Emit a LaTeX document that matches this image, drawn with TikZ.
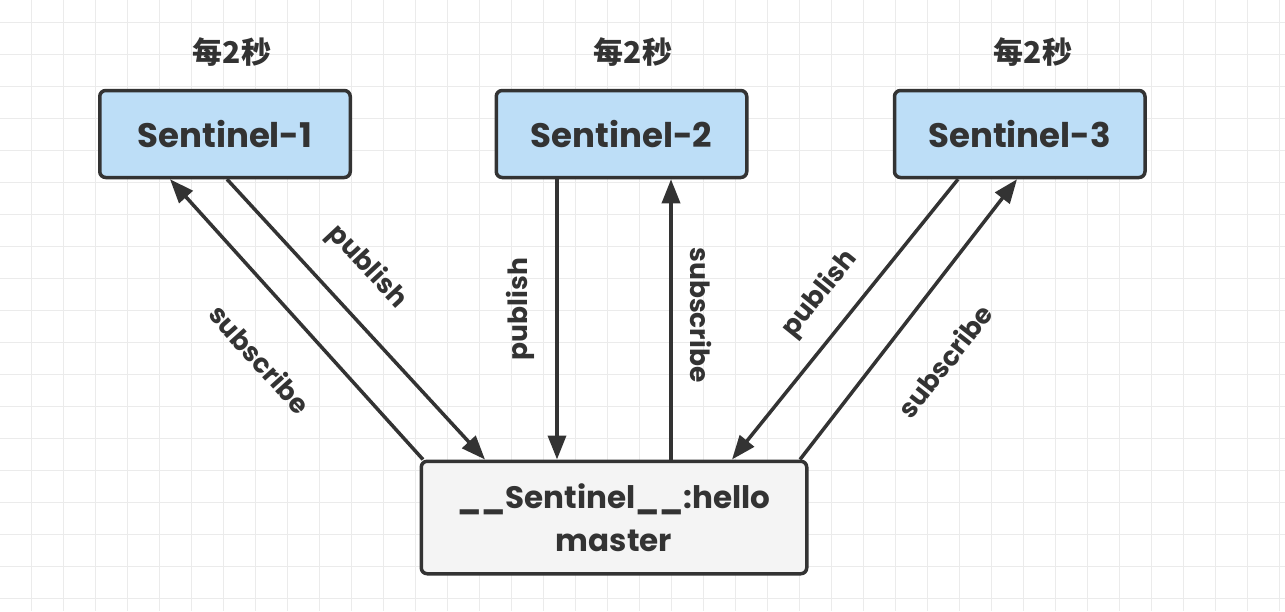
\documentclass[tikz,border=0pt]{standalone}
\usepackage{fontspec}
\setmainfont{Poppins}
\newfontfamily\cjkfont{Noto Sans CJK SC}
\usetikzlibrary{arrows.meta}
\definecolor{SenBlue}{HTML}{BDDEF7}
\definecolor{HubGray}{HTML}{F4F4F4}
\definecolor{InkDark}{HTML}{333333}
\definecolor{GridGray}{HTML}{EBEBEB}

\begin{document}
\begin{tikzpicture}[x=1pt,y=-1pt,
  sentinel/.style={draw=InkDark,line width=3.5pt,rounded corners=6pt,fill=SenBlue,minimum width=250.5pt,minimum height=87pt,text=InkDark,font=\fontsize{34}{40}\selectfont\bfseries},
  hub/.style={draw=InkDark,line width=3.5pt,rounded corners=6pt,fill=HubGray,minimum width=385.5pt,minimum height=112.5pt,align=center,text=InkDark,font=\fontsize{31}{43}\selectfont\bfseries},
  period/.style={text=InkDark,font=\fontsize{30}{34}\cjkfont\bfseries},
  msg/.style={text=InkDark,font=\fontsize{26.5}{30}\selectfont\bfseries},
  flow/.style={draw=InkDark,line width=3.5pt,-{Triangle[length=24pt,width=18pt]}}
]
\useasboundingbox (0,0) rectangle (1285,611);
\fill[white] (0,0) rectangle (1285,611);
% background grid
\foreach \gx in {0,...,39}
  \draw[GridGray,line width=1pt] (31.5+32*\gx,0) -- (31.5+32*\gx,611);
\foreach \gy in {0,...,18}
  \draw[GridGray,line width=1pt] (0,22+32*\gy) -- (1285,22+32*\gy);

\node[sentinel] (s1) at (225,134) {Sentinel-1};
\node[sentinel] (s2) at (621.5,134) {Sentinel-2};
\node[sentinel] (s3) at (1019.75,134) {Sentinel-3};
\node[hub] (hub) at (614,517.5) {\_\_Sentinel\_\_:hello\\master};

\node[period] (t1) at (232,52) {每2秒};
\node[period] (t2) at (633,52) {每2秒};
\node[period] (t3) at (1033,52) {每2秒};

% left pair
\draw[flow] ([xshift=2pt]s1.south) -- ([xshift=-129pt]hub.north);
\draw[flow] ([xshift=-191pt]hub.north) -- ([xshift=-55pt]s1.south);
% middle pair
\draw[flow] ([xshift=-64.5pt]s2.south) -- ([xshift=-64.5pt]s2.south |- hub.north);
\draw[flow] ([xshift=49.5pt]s2.south |- hub.north) -- ([xshift=49.5pt]s2.south);
% right pair
\draw[flow] ([xshift=-61.75pt]s3.south) -- ([xshift=118pt]hub.north);
\draw[flow] ([xshift=186pt]hub.north) -- ([xshift=-2.75pt]s3.south);

\node[msg,rotate=-47] (pub1) at (367,267) {publish};
\node[msg,rotate=-48] (sub1) at (260,359) {subscribe};
\node[msg,rotate=90] (pub2) at (520,309) {publish};
\node[msg,rotate=-90] (sub2) at (701,315) {subscribe};
\node[msg,rotate=51] (pub3) at (820,294) {publish};
\node[msg,rotate=52] (sub3) at (945,361) {subscribe};
\end{tikzpicture}
\end{document}
